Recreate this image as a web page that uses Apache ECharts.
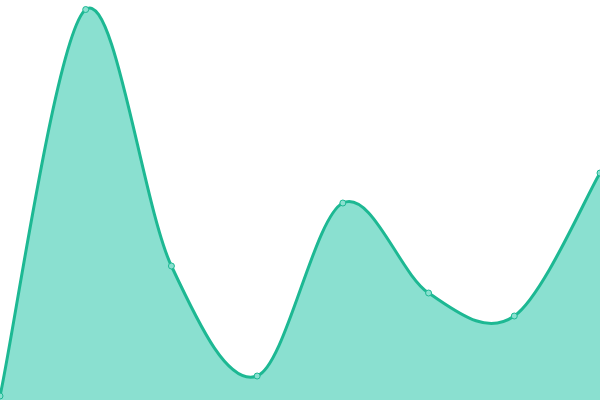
<!DOCTYPE html>
<html>
<head>
<meta charset="utf-8">
<script src="https://cdn.jsdelivr.net/npm/echarts@6/dist/echarts.min.js"></script>
<style>
  html, body { margin: 0; padding: 0; background: #fff; }
  #chart { width: 600px; height: 400px; }
</style>
</head>
<body>
<div id="chart"></div>
<script>
// 8 points across the full width, y read in pixels from the bottom
var categories = ['1', '2', '3', '4', '5', '6', '7', '8']
var values = [4, 390.5, 134, 24, 197, 107, 84, 227]

var lineColor = '#1db893'
var fillColor = '#8ae0d0'

// cardinal spline (tension 0) through the points, like the original curve
function splinePath (pts) {
  var d = 'M' + pts[0][0] + ' ' + pts[0][1]
  for (var i = 0; i < pts.length - 1; i++) {
    var p0 = pts[i - 1] || pts[i]
    var p1 = pts[i]
    var p2 = pts[i + 1]
    var p3 = pts[i + 2] || pts[i + 1]
    var c1x = p1[0] + (p2[0] - p0[0]) / 6
    var c1y = p1[1] + (p2[1] - p0[1]) / 6
    var c2x = p2[0] - (p3[0] - p1[0]) / 6
    var c2y = p2[1] - (p3[1] - p1[1]) / 6
    d += ' C' + c1x + ' ' + c1y + ' ' + c2x + ' ' + c2y + ' ' + p2[0] + ' ' + p2[1]
  }
  return d
}

var myChart = echarts.init(document.getElementById('chart'))
myChart.setOption({
  animation: false,
  grid: { left: 0, right: 0, top: 0, bottom: 0 },
  xAxis: {
    type: 'category',
    boundaryGap: false,
    data: categories,
    show: false
  },
  yAxis: {
    type: 'value',
    min: 0,
    max: 400,
    show: false
  },
  series: [
    {
      type: 'custom',
      data: values.map(function (v, i) { return [i, v] }),
      renderItem: function (params, api) {
        if (params.dataIndex !== 0) return null
        var pts = values.map(function (v, i) { return api.coord([i, v]) })
        var base = api.coord([0, 0])[1]
        var line = splinePath(pts)
        var last = pts[pts.length - 1]
        var area = line + ' L' + last[0] + ' ' + base + ' L' + pts[0][0] + ' ' + base + ' Z'
        return {
          type: 'group',
          children: [
            { type: 'path', shape: { pathData: area }, style: { fill: fillColor, stroke: null } },
            { type: 'path', shape: { pathData: line }, style: { fill: null, stroke: lineColor, lineWidth: 3 } }
          ]
        }
      },
      z: 1
    },
    {
      type: 'scatter',
      data: values,
      symbol: 'circle',
      symbolSize: 6,
      itemStyle: { color: fillColor, borderColor: lineColor, borderWidth: 1, opacity: 1 },
      z: 3
    }
  ]
})
</script>
</body>
</html>
